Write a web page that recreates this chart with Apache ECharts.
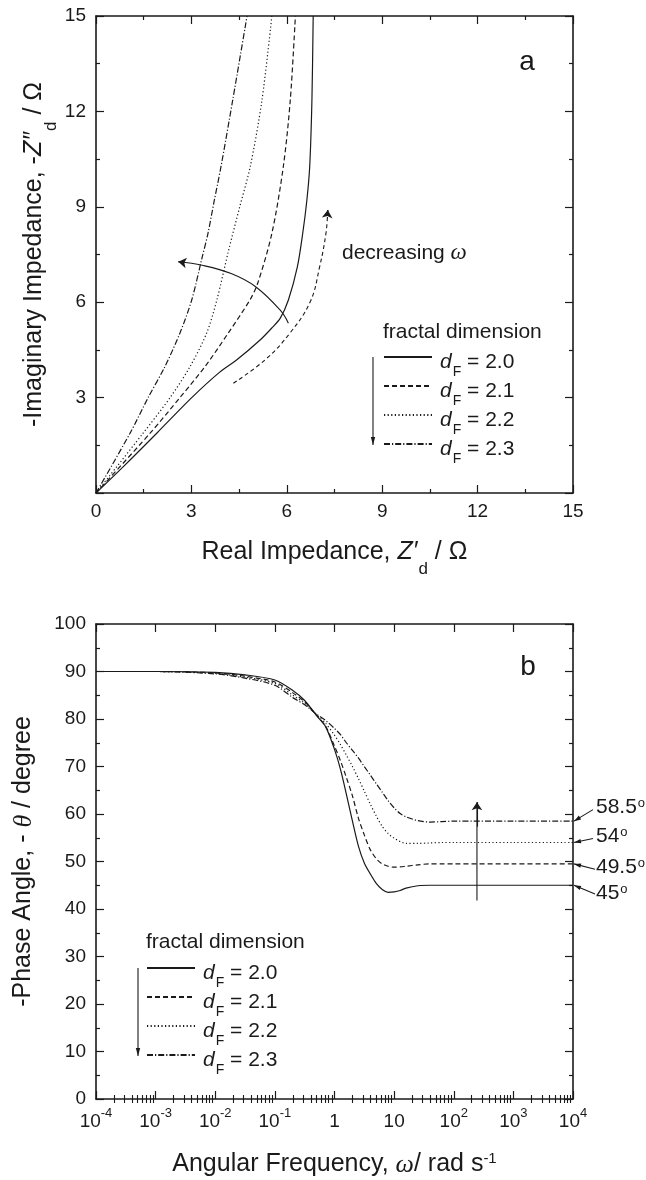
<!DOCTYPE html>
<html><head><meta charset="utf-8">
<script src="https://cdn.jsdelivr.net/npm/echarts@6/dist/echarts.min.js"></script>
<style>html,body{margin:0;padding:0;background:#fff}#c{width:646px;height:1180px}</style>
</head><body><div id="c"></div>
<script>
// ================= DATA =================
const dfLabels = ['2.0', '2.1', '2.2', '2.3'];

// Panel a: Nyquist plot - real part Z'd (ohm) and imaginary part -Z''d (ohm)
const re_20 = [0, 0.86, 1.91, 3.01, 3.9, 4.42, 5.16, 5.52, 5.79, 6.05, 6.33, 6.5, 6.63, 6.72, 6.79, 6.83];
const im_20 = [0, 0.83, 1.88, 3.0, 3.81, 4.18, 4.81, 5.18, 5.49, 6.07, 7.1, 8.16, 9.2, 10.26, 12.36, 15];
const re_21 = [0, 1.7, 2.64, 3.43, 4.16, 4.84, 5.08, 5.53, 5.89, 6.11, 6.27];
const im_21 = [0, 1.88, 3.0, 3.98, 5.03, 6.07, 6.58, 8.16, 10.26, 12.36, 15];
const re_22 = [0, 1.48, 2.33, 2.96, 3.48, 3.8, 4.17, 4.52, 4.85, 5.22, 5.53];
const im_22 = [0, 1.88, 3.0, 3.98, 5.03, 6.07, 7.63, 9.0, 10.26, 12.36, 15];
const re_23 = [0, 1.07, 1.64, 2.17, 2.64, 3.01, 3.34, 3.52, 3.72, 3.93, 4.3, 4.75];
const im_23 = [0, 1.88, 3.0, 3.98, 5.03, 6.07, 7.42, 8.16, 9.2, 10.26, 12.36, 15];

// Panel a annotations (curved arrows, data units)
const arrowSolidRe = [6.05, 5.8, 5.03, 4.25, 3.34, 2.59];
const arrowSolidIm = [5.34, 5.74, 6.48, 6.9, 7.16, 7.27];
const arrowDashRe = [4.32, 5.32, 6.1, 6.74, 7.03, 7.23, 7.29];
const arrowDashIm = [3.45, 4.19, 5.03, 6.02, 7.1, 8.16, 8.9];

// Panel b: Bode phase plot - angular frequency (rad/s) and -theta (degree)
const omega = [0.0001, 0.001, 0.01, 0.0316, 0.1, 0.2, 0.316, 0.5, 0.708, 1, 1.26, 1.58, 2, 2.51, 3.16, 3.98, 5.01, 6.31, 7.94, 10, 12.6, 15.8, 25.1, 39.8, 63.1, 100, 1000, 10000];
const phase_20 = [90, 90, 89.8, 89.3, 88.2, 86.0, 83.9, 80.7, 78.4, 73.6, 69.4, 64.2, 58.5, 53.3, 49.7, 47.4, 45.4, 44.1, 43.5, 43.6, 43.9, 44.4, 44.9, 45, 45, 45, 45, 45];
const phase_21 = [90, 90, 89.7, 89.0, 87.8, 85.5, 83.6, 80.8, 78.5, 74.3, 71.2, 67.7, 63.8, 59.2, 55.6, 52.5, 50.6, 49.5, 49.0, 48.8, 48.85, 49.0, 49.3, 49.5, 49.5, 49.5, 49.5, 49.5];
const phase_22 = [90, 90, 89.6, 88.8, 87.5, 85.0, 83.3, 80.9, 79.1, 76.6, 74.6, 72.4, 70.0, 67.5, 64.8, 62.1, 59.6, 57.4, 55.9, 54.9, 54.2, 53.8, 53.8, 53.9, 54, 54, 54, 54];
const phase_23 = [90, 90, 89.5, 88.6, 87.1, 84.5, 83.0, 81.0, 79.7, 78.0, 76.7, 75.0, 73.4, 71.8, 70.0, 68.2, 66.4, 64.6, 62.8, 61.3, 60.1, 59.4, 58.6, 58.3, 58.4, 58.5, 58.5, 58.5];

// Panel b annotations
const upArrowOmega = [245, 245];
const upArrowPhase = [41.8, 62.5];
const plateauPhase = [58.5, 54, 49.5, 45];
const plateauText = ['58.5', '54', '49.5', '45'];

// ================= STYLE =================
const FONT = '"Liberation Sans", Arial, Helvetica, sans-serif';
const SERIF = '"Liberation Serif", "Times New Roman", serif';
const INK = '#1a1a1a';
const dashTypes = ['solid', [5, 3], [1.2, 2.4], [6, 2, 1.2, 2]];

const zip = (a, b) => a.map((v, i) => [v, b[i]]);
const nyq = [[re_20, im_20], [re_21, im_21], [re_22, im_22], [re_23, im_23]];
const phases = [phase_20, phase_21, phase_22, phase_23];
const names = dfLabels.map(l => 'dF = ' + l);

const minorLog = [];
for (let e = -4; e < 4; e++) for (let k = 2; k <= 9; k++) minorLog.push(+(k * Math.pow(10, e)).toPrecision(3));

function baseAxis(o) {
  const a = {
    nameMoveOverlap: false,
    axisLine: { show: true, onZero: false, lineStyle: { color: INK, width: 1.6 } },
    axisTick: { show: true, inside: true, length: 8, lineStyle: { color: INK, width: 1.2 } },
    minorTick: { show: false },
    splitLine: { show: false }, minorSplitLine: { show: false },
    axisLabel: { show: false },
    axisPointer: { show: false }
  };
  for (const k in o) a[k] = o[k];
  return a;
}
const labelStyle = { show: true, fontFamily: FONT, fontSize: 19, color: INK };
const minorLin = { show: true, splitNumber: 2, length: 4, lineStyle: { color: INK, width: 1.2 } };

const titleRich = {
  n: { fontFamily: FONT, fontSize: 25, lineHeight: 30, color: INK, verticalAlign: 'top' },
  i: { fontFamily: FONT, fontSize: 25, lineHeight: 30, fontStyle: 'italic', color: INK, verticalAlign: 'top' },
  s: { fontFamily: FONT, fontSize: 17, lineHeight: 17, color: INK, verticalAlign: 'top', padding: [21, 0, 0, 1] },
  g: { fontFamily: SERIF, fontSize: 26, lineHeight: 30, fontStyle: 'italic', color: INK, verticalAlign: 'top' },
  n1: { fontFamily: FONT, fontSize: 25, lineHeight: 30, color: INK, verticalAlign: 'top', padding: [1, 0, 0, 0] },
  g1: { fontFamily: SERIF, fontSize: 26, lineHeight: 30, fontStyle: 'italic', color: INK, verticalAlign: 'top', padding: [1, 0, 0, 0] },
  p: { fontFamily: FONT, fontSize: 15, lineHeight: 15, color: INK, verticalAlign: 'top' }
};

const legendRich = {
  i: { fontFamily: FONT, fontSize: 21, lineHeight: 24, fontStyle: 'italic', color: INK, verticalAlign: 'top', padding: [7, 0, 0, 0] },
  s: { fontFamily: FONT, fontSize: 14, lineHeight: 14, color: INK, verticalAlign: 'top', padding: [20, 0, 0, 1] },
  n: { fontFamily: FONT, fontSize: 21, lineHeight: 24, color: INK, verticalAlign: 'top', padding: [7, 0, 0, 0] }
};
function legendCfg(left, top) {
  return {
    orient: 'vertical', left: left, top: top, padding: 0,
    itemWidth: 48, itemHeight: 14, itemGap: -5,
    selectedMode: false, data: names,
    itemStyle: { opacity: 0 },
    textStyle: { fontFamily: FONT, fontSize: 21, color: INK, padding: [0, 0, 0, 3], rich: legendRich },
    formatter: n => '{i|d}{s|F}{n| = ' + n.slice(-3) + '}'
  };
}

const series = [];
nyq.forEach((p, i) => series.push({
  name: names[i], type: 'line', xAxisIndex: 0, yAxisIndex: 0, data: zip(p[0], p[1]),
  smooth: 0.3, symbol: 'none', silent: true, itemStyle: { color: INK },
  lineStyle: { color: INK, width: 1.2, type: dashTypes[i] }
}));
phases.forEach((ph, i) => series.push({
  name: names[i], type: 'line', xAxisIndex: 2, yAxisIndex: 2, data: zip(omega, ph),
  smooth: 0.3, symbol: 'none', silent: true, itemStyle: { color: INK },
  lineStyle: { color: INK, width: 1.2, type: dashTypes[i] }
}));
function arrowSeries(xs, ys, xi, yi, type, smooth) {
  const n = xs.length;
  const a = xs[n - 2] + (xs[n - 1] - xs[n - 2]) * 0.75, b = ys[n - 2] + (ys[n - 1] - ys[n - 2]) * 0.75;
  return {
    type: 'line', xAxisIndex: xi, yAxisIndex: yi, data: zip(xs, ys), smooth: smooth,
    symbol: 'none', silent: true, lineStyle: { color: INK, width: 1.1, type: type },
    markLine: {
      silent: true, animation: false, symbol: ['none', 'arrow'], symbolSize: 8,
      label: { show: false }, lineStyle: { color: INK, width: 1.1, type: 'solid' },
      data: [[{ coord: [a, b] }, { coord: [xs[n - 1], ys[n - 1]] }]]
    }
  };
}
series.push(arrowSeries(arrowSolidRe, arrowSolidIm, 0, 0, 'solid', 0.4));
series.push(arrowSeries(arrowDashRe, arrowDashIm, 0, 0, [4, 3], 0.4));
series.push(arrowSeries(upArrowOmega, upArrowPhase, 2, 2, 'solid', false));

const option = {
  animation: false,
  backgroundColor: '#fff',
  grid: [
    { left: 96, top: 16, width: 477, height: 477, outerBoundsMode: 'none', containLabel: false },
    { left: 96, top: 624, width: 477, height: 475, outerBoundsMode: 'none', containLabel: false }
  ],
  legend: [legendCfg(383, 345), legendCfg(146, 956)],
  xAxis: [
    baseAxis({ gridIndex: 0, type: 'value', position: 'bottom', min: 0, max: 15, interval: 3,
      minorTick: minorLin, axisLabel: Object.assign({ margin: 8, lineHeight: 22 }, labelStyle),
      name: '{n|Real Impedance, }{i|Z\u2032}{s|d}{n| / \u03A9}', nameLocation: 'middle', nameGap: 47,
      nameTextStyle: { fontFamily: FONT, fontSize: 25, color: INK, rich: titleRich } }),
    baseAxis({ gridIndex: 0, type: 'value', position: 'top', min: 0, max: 15, interval: 3, minorTick: minorLin }),
    baseAxis({ gridIndex: 1, type: 'log', logBase: 10, position: 'bottom', min: 0.0001, max: 10000, splitNumber: 8,
      axisLabel: Object.assign({ margin: 8, lineHeight: 30,
        formatter: v => { const e = Math.round(Math.log10(v)); return e === 0 ? '1' : (e === 1 ? '10' : '10{sup|' + e + '}'); },
        rich: { sup: { fontFamily: FONT, fontSize: 13, lineHeight: 13, verticalAlign: 'top', color: INK } } }, labelStyle),
      name: '{n1|Angular Frequency, }{g1|\u03C9}{n1|/ rad s}{p|-1}', nameLocation: 'middle', nameGap: 52,
      nameTextStyle: { fontFamily: FONT, fontSize: 25, color: INK, rich: titleRich } }),
    baseAxis({ gridIndex: 1, type: 'log', logBase: 10, position: 'top', min: 0.0001, max: 10000, splitNumber: 8 }),
    baseAxis({ gridIndex: 1, type: 'log', logBase: 10, position: 'bottom', min: 0.0001, max: 10000, splitNumber: 8,
      axisLine: { show: false }, axisTick: { show: true, inside: true, length: 4, customValues: minorLog, lineStyle: { color: INK, width: 1.1 } } }),
    baseAxis({ gridIndex: 1, type: 'log', logBase: 10, position: 'top', min: 0.0001, max: 10000, splitNumber: 8,
      axisLine: { show: false }, axisTick: { show: true, inside: true, length: 4, customValues: minorLog, lineStyle: { color: INK, width: 1.1 } } })
  ],
  yAxis: [
    baseAxis({ gridIndex: 0, type: 'value', position: 'left', min: 0, max: 15, interval: 3, minorTick: minorLin,
      axisLabel: Object.assign({ margin: 10, showMinLabel: false }, labelStyle),
      name: '{n|-Imaginary Impedance, -}{i|Z\u2033}{s|d}{n| / \u03A9}', nameLocation: 'middle', nameGap: 44,
      nameTextStyle: { fontFamily: FONT, fontSize: 25, color: INK, rich: titleRich } }),
    baseAxis({ gridIndex: 0, type: 'value', position: 'right', min: 0, max: 15, interval: 3, minorTick: minorLin }),
    baseAxis({ gridIndex: 1, type: 'value', position: 'left', min: 0, max: 100, interval: 10, minorTick: minorLin,
      axisLabel: Object.assign({ margin: 10 }, labelStyle),
      name: '{n|-Phase Angle, - }{g|\u03B8}{n| / degree}', nameLocation: 'middle', nameGap: 55,
      nameTextStyle: { fontFamily: FONT, fontSize: 25, color: INK, rich: titleRich } }),
    baseAxis({ gridIndex: 1, type: 'value', position: 'right', min: 0, max: 100, interval: 10, minorTick: minorLin })
  ],
  series: series
};

const chart = echarts.init(document.getElementById('c'), null, { renderer: 'canvas' });
chart.setOption(option);

// ---------- text annotations and arrows (layout) ----------
function head(x1, y1, x2, y2, len, hw) {
  const dx = x2 - x1, dy = y2 - y1, L = Math.hypot(dx, dy), ux = dx / L, uy = dy / L;
  const bx = x2 - ux * len, by = y2 - uy * len;
  return { type: 'polygon', silent: true, z: 100,
    shape: { points: [[x2, y2], [bx - uy * hw, by + ux * hw], [bx + uy * hw, by - ux * hw]] },
    style: { fill: INK } };
}
function seg(x1, y1, x2, y2) {
  return { type: 'line', silent: true, z: 100, shape: { x1: x1, y1: y1, x2: x2, y2: y2 }, style: { stroke: INK, lineWidth: 1.1 } };
}
function txt(x, y, text, size, rich, align) {
  return { type: 'text', silent: true, z: 100, x: x, y: y,
    style: { text: text, fontFamily: FONT, fontSize: size, fill: INK, align: align || 'left', verticalAlign: 'middle', rich: rich } };
}
const g = [];
g.push(txt(527, 62, 'a', 28, null, 'center'));
g.push(txt(528, 667, 'b', 28, null, 'center'));
g.push(txt(342, 253, '{n|decreasing }{w|\u03C9}', 21, {
  n: { fontFamily: FONT, fontSize: 21, lineHeight: 24, fill: INK },
  w: { fontFamily: SERIF, fontSize: 23, lineHeight: 24, fontStyle: 'italic', fill: INK } }));
g.push(txt(383, 332, 'fractal dimension', 21));
g.push(txt(146, 942, 'fractal dimension', 21));
// legend arrows
g.push(seg(373, 357, 373, 445)); g.push(head(373, 357, 373, 445, 8, 2.2));
g.push(seg(138, 968, 138, 1056)); g.push(head(138, 968, 138, 1056, 8, 2.2));
// plateau labels
const degOffsets = [[20, -11.5, -8.5], [20, -4, -1], [22, 5.3, 9.3], [22, 8.8, 13.8]];
const degRich = {
  n: { fontFamily: FONT, fontSize: 21, lineHeight: 32, fill: INK, verticalAlign: 'top', padding: [0, 1, 0, 0] },
  o: { fontFamily: FONT, fontSize: 13, lineHeight: 13, fill: INK, verticalAlign: 'top' } };
plateauPhase.forEach((v, i) => {
  const P = chart.convertToPixel({ xAxisIndex: 2, yAxisIndex: 2 }, [10000, v]);
  const o = degOffsets[i];
  const sx = P[0] + o[0], sy = P[1] + o[1];
  g.push(seg(sx, sy, P[0] + 1, P[1]));
  g.push(head(sx, sy, P[0] + 1, P[1], 7, 2.2));
  g.push(txt(P[0] + 23, P[1] + o[2], '{n|' + plateauText[i] + '}{o|o}', 21, degRich));
});
chart.setOption({ graphic: g });
</script>
</body></html>
